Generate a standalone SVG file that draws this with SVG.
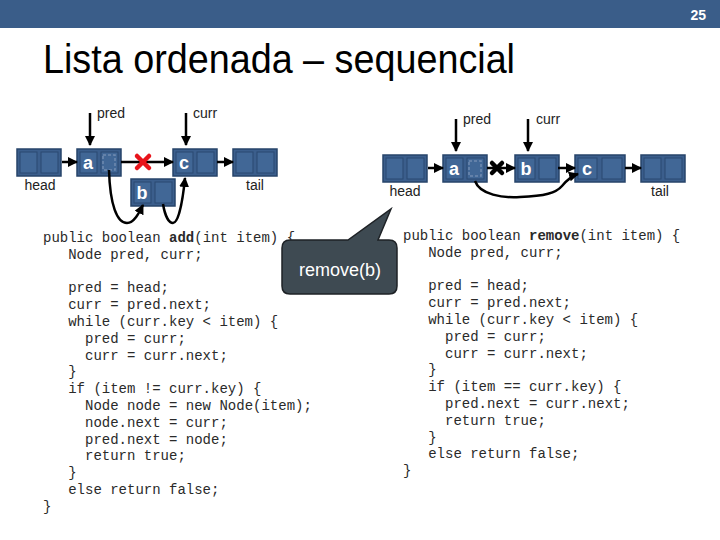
<svg xmlns="http://www.w3.org/2000/svg" width="720" height="540" viewBox="0 0 720 540">
<style>
.lbl{font-family:"Liberation Sans",Arial,sans-serif;font-size:14px;fill:#222}
.key{font-family:"Liberation Sans",Arial,sans-serif;font-size:18px;font-weight:bold;fill:#fff}
.code{font-family:"Liberation Mono","Courier New",monospace;font-size:14px;fill:#2a2a2a}
.nd{fill:#3b5e8c;stroke:#27446a;stroke-width:1.5}
.cell{fill:#416796;stroke:#2a4870;stroke-width:1}
.dash{fill:none;stroke:#6f8ab0;stroke-width:1.5;stroke-dasharray:3 2}
.ln{fill:none;stroke:#000;stroke-width:2.5}
</style>
<defs>
<marker id="ah" viewBox="0 0 10 10" refX="9" refY="5" markerWidth="4" markerHeight="4" orient="auto" markerUnits="strokeWidth">
<path d="M0,0 L10,5 L0,10 Z" fill="#000"/>
</marker>
<g id="nodeShape">
<rect class="nd" x="0" y="0" width="44" height="27"/>
<rect class="cell" x="3" y="3" width="17" height="21"/>
<rect class="cell" x="24" y="3" width="17" height="21"/>
</g>
</defs>
<rect x="0" y="0" width="720" height="28" fill="#3a5d89"/>
<text x="706" y="20" text-anchor="end" style="font-family:'Liberation Sans',Arial,sans-serif;font-size:14px;font-weight:bold;fill:#fff">25</text>
<text x="43" y="73" textLength="472" lengthAdjust="spacingAndGlyphs" style="font-family:'Liberation Sans',Arial,sans-serif;font-size:40px;fill:#000">Lista ordenada – sequencial</text>

<!-- Left diagram nodes -->
<g id="L-head"><use href="#nodeShape" x="17" y="149"/><text class="lbl" x="40" y="190" text-anchor="middle">head</text></g>
<g id="L-a"><use href="#nodeShape" x="77" y="149"/><text class="key" x="88" y="169" text-anchor="middle">a</text><rect class="dash" x="103" y="155" width="12" height="15"/></g>
<g id="L-c"><use href="#nodeShape" x="173" y="149"/><text class="key" x="184" y="169" text-anchor="middle">c</text></g>
<g id="L-tail"><use href="#nodeShape" x="233" y="149"/><text class="lbl" x="255" y="190" text-anchor="middle">tail</text></g>
<g id="L-b"><use href="#nodeShape" x="131" y="179"/><text class="key" x="142" y="199" text-anchor="middle">b</text></g>
<g id="L-pred"><text class="lbl" x="97" y="118">pred</text></g>
<g id="L-curr"><text class="lbl" x="193" y="118">curr</text></g>

<!-- Right diagram nodes -->
<g id="R-head"><use href="#nodeShape" x="383" y="155"/><text class="lbl" x="405" y="196" text-anchor="middle">head</text></g>
<g id="R-a"><use href="#nodeShape" x="443" y="155"/><text class="key" x="454" y="175" text-anchor="middle">a</text><rect class="dash" x="469" y="161" width="12" height="15"/></g>
<g id="R-b"><use href="#nodeShape" x="515" y="155"/><text class="key" x="526" y="175" text-anchor="middle">b</text></g>
<g id="R-c"><rect class="nd" x="575" y="155" width="50" height="27"/><rect class="cell" x="578" y="158" width="19" height="21"/><rect class="cell" x="602" y="158" width="20" height="21"/><text class="key" x="587" y="175" text-anchor="middle">c</text></g>
<g id="R-tail"><use href="#nodeShape" x="641" y="155"/><text class="lbl" x="660" y="196" text-anchor="middle">tail</text></g>
<g id="R-pred"><text class="lbl" x="463" y="124">pred</text></g>
<g id="R-curr"><text class="lbl" x="536" y="124">curr</text></g>

<!-- Connectors -->
<g id="connectors">
<line class="ln" x1="62" y1="162" x2="77" y2="162" marker-end="url(#ah)"/>
<line class="ln" x1="121" y1="162" x2="173" y2="162" marker-end="url(#ah)"/>
<line class="ln" x1="217" y1="162" x2="233" y2="162" marker-end="url(#ah)"/>
<line class="ln" x1="90" y1="113" x2="90" y2="145" marker-end="url(#ah)"/>
<line class="ln" x1="186" y1="113" x2="186" y2="145" marker-end="url(#ah)"/>
<path class="ln" d="M109,170 C110,205 117,223 127,223 C134,223 139,213 143,205" marker-end="url(#ah)"/>
<path class="ln" d="M163,204 C165,216 169,223 173,223 C179,223 183,198 185,178" marker-end="url(#ah)"/>
<g stroke="#e8141b" stroke-width="4.5" stroke-linecap="round">
<line x1="137" y1="156" x2="149" y2="168"/><line x1="149" y1="156" x2="137" y2="168"/>
</g>

<line class="ln" x1="428" y1="168" x2="443" y2="168" marker-end="url(#ah)"/>
<line class="ln" x1="487" y1="168" x2="515" y2="168" marker-end="url(#ah)"/>
<line class="ln" x1="558" y1="168" x2="575" y2="168" marker-end="url(#ah)"/>
<line class="ln" x1="625" y1="168" x2="641" y2="168" marker-end="url(#ah)"/>
<line class="ln" x1="456" y1="119" x2="456" y2="151" marker-end="url(#ah)"/>
<line class="ln" x1="528" y1="119" x2="528" y2="151" marker-end="url(#ah)"/>
<path class="ln" d="M475,181 C480,195 503,198 520,197 C545,196 556,193 562,186 C567,180 571,176 578,174" marker-end="url(#ah)"/>
<g stroke="#000" stroke-width="4.5" stroke-linecap="round">
<line x1="492" y1="163" x2="502" y2="173"/><line x1="502" y1="163" x2="492" y2="173"/>
</g>
</g>

<!-- Left code -->
<g id="code-add" class="code">
<text x="43" y="242">public boolean <tspan font-weight="bold">add</tspan>(int item) {</text>
<text x="68.2" y="258.8">Node pred, curr;</text>
<text x="68.2" y="292.4">pred = head;</text>
<text x="68.2" y="309.2">curr = pred.next;</text>
<text x="68.2" y="326">while (curr.key &lt; item) {</text>
<text x="85" y="342.8">pred = curr;</text>
<text x="85" y="359.6">curr = curr.next;</text>
<text x="68.2" y="376.4">}</text>
<text x="68.2" y="393.2">if (item != curr.key) {</text>
<text x="85" y="410">Node node = new Node(item);</text>
<text x="85" y="426.8">node.next = curr;</text>
<text x="85" y="443.6">pred.next = node;</text>
<text x="85" y="460.4">return true;</text>
<text x="68.2" y="477.2">}</text>
<text x="68.2" y="494">else return false;</text>
<text x="43" y="510.8">}</text>
</g>

<!-- Right code -->
<g id="code-remove" class="code">
<text x="403" y="240">public boolean <tspan font-weight="bold">remove</tspan>(int item) {</text>
<text x="428.2" y="256.8">Node pred, curr;</text>
<text x="428.2" y="290.4">pred = head;</text>
<text x="428.2" y="307.2">curr = pred.next;</text>
<text x="428.2" y="324">while (curr.key &lt; item) {</text>
<text x="445" y="340.8">pred = curr;</text>
<text x="445" y="357.6">curr = curr.next;</text>
<text x="428.2" y="374.4">}</text>
<text x="428.2" y="391.2">if (item == curr.key) {</text>
<text x="445" y="408">pred.next = curr.next;</text>
<text x="445" y="424.8">return true;</text>
<text x="428.2" y="441.6">}</text>
<text x="428.2" y="458.4">else return false;</text>
<text x="403" y="475.2">}</text>
</g>

<!-- Callout -->
<g id="callout">
<path d="M290,240 L348,240 L391,209 L378,240 L389,240 Q397,240 397,248 L397,286 Q397,294 389,294 L290,294 Q282,294 282,286 L282,248 Q282,240 290,240 Z" fill="#3e4a52" stroke="#1e2226" stroke-width="1.5"/>
<text x="340" y="276" text-anchor="middle" style="font-family:'Liberation Sans',Arial,sans-serif;font-size:18px;fill:#fff">remove(b)</text>
</g>
</svg>
